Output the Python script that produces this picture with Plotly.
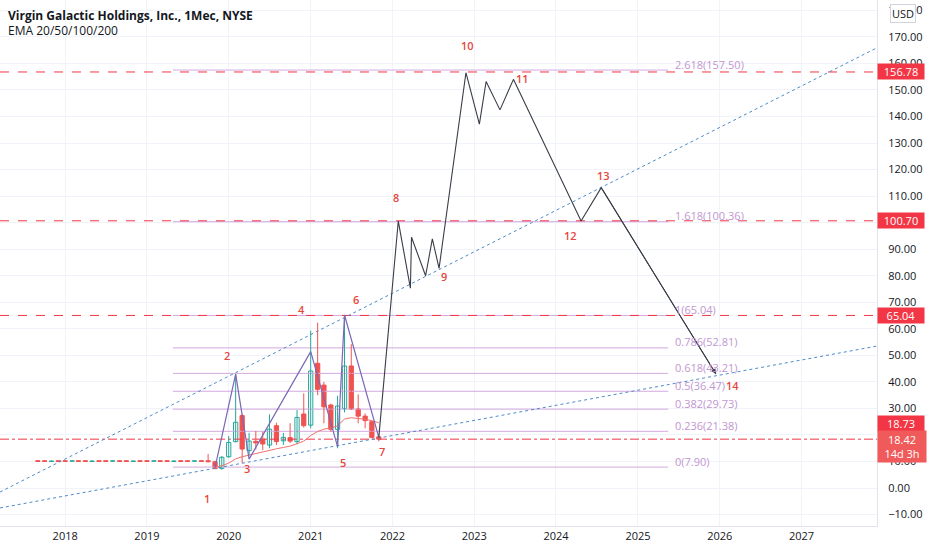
import plotly.graph_objects as go

# ---------------- data ----------------
candle_dates = ['2017-09-01','2017-10-01','2017-11-01','2017-12-01','2018-01-01','2018-02-01','2018-03-01',
                '2018-04-01','2018-05-01','2018-06-01','2018-07-01','2018-08-01','2018-09-01','2018-10-01',
                '2018-11-01','2018-12-01','2019-01-01','2019-02-01','2019-03-01','2019-04-01','2019-05-01',
                '2019-06-01','2019-07-01','2019-08-01','2019-09-01',
                '2019-10-01','2019-11-01','2019-12-01','2020-01-01','2020-02-01','2020-03-01','2020-04-01',
                '2020-05-01','2020-06-01','2020-07-01','2020-08-01','2020-09-01','2020-10-01','2020-11-01',
                '2020-12-01','2021-01-01','2021-02-01','2021-03-01','2021-04-01','2021-05-01','2021-06-01',
                '2021-07-01','2021-08-01','2021-09-01','2021-10-01','2021-11-01']
c_open  = [10.3,10.3,10.0,10.3,10.3,10.1,10.3,10.3,10.0,10.3,10.3,10.1,10.3,10.3,10.0,10.3,10.3,10.1,10.3,
           10.3,10.0,10.3,10.3,10.1,10.3,
           10.3,9.9,7.4,11.8,17.5,27.3,14.1,17.6,18.5,16.2,23.5,17.8,19.0,17.5,27.9,23.7,47.0,38.8,31.3,
           22.1,30.0,46.0,29.8,27.1,25.0,19.3]
c_high  = [10.4,10.4,10.4,10.4,10.4,10.4,10.4,10.4,10.4,10.4,10.4,10.4,10.4,10.4,10.4,10.4,10.4,10.4,10.4,
           10.4,10.4,10.4,10.4,10.4,10.4,
           12.8,10.3,12.0,19.6,42.9,28.0,20.8,21.5,21.2,27.8,24.6,20.8,24.4,29.4,35.7,59.3,62.3,40.0,31.8,
           34.8,65.0,54.2,35.3,28.1,25.4,19.8]
c_low   = [9.9,9.9,9.9,9.9,9.9,9.9,9.9,9.9,9.9,9.9,9.9,9.9,9.9,9.9,9.9,9.9,9.9,9.9,9.9,9.9,9.9,9.9,9.9,9.9,9.9,
           9.7,7.2,6.9,11.4,17.2,9.5,12.2,14.5,14.3,15.0,16.2,16.2,17.0,16.5,22.8,22.5,35.0,24.4,21.2,
           15.0,28.5,29.4,24.4,22.5,18.7,17.6]
c_close = [10.0,10.0,10.2,10.0,10.0,10.3,10.0,10.0,10.2,10.0,10.0,10.3,10.0,10.0,10.2,10.0,10.0,10.3,10.0,
           10.0,10.2,10.0,10.0,10.3,10.0,
           9.9,7.3,11.6,17.2,24.8,14.7,17.7,17.0,16.6,22.2,17.5,19.1,17.7,26.6,23.5,44.1,37.2,30.6,22.1,
           30.9,46.0,29.8,27.1,25.4,19.1,18.42]

ema_dates = ['2019-11-01','2019-12-01','2020-01-01','2020-02-01','2020-03-01','2020-04-01','2020-05-01',
             '2020-06-01','2020-07-01','2020-08-01','2020-09-01','2020-10-01','2020-11-01','2020-12-01',
             '2021-01-01','2021-02-01','2021-03-01','2021-04-01','2021-05-01','2021-06-01','2021-07-01',
             '2021-08-01','2021-09-01','2021-10-01','2021-11-01']
ema_vals = [8.0,8.4,9.4,11.0,11.8,12.4,13.0,13.7,14.4,14.8,15.3,15.8,16.7,17.7,19.8,21.3,22.2,22.6,23.5,
            26.0,26.5,26.3,25.9,25.4,24.6]

purple_dates = ['2019-11-01','2020-02-01','2020-04-01','2021-01-01','2021-05-01','2021-06-01','2021-11-01']
purple_vals  = [7.8, 42.9, 10.9, 51.4, 15.6, 65.2, 19.1]

path_dates = ['2021-11-01','2022-01-27','2022-03-22','2022-03-27','2022-05-29','2022-06-28','2022-07-28',
              '2022-11-25','2023-01-24','2023-02-23','2023-04-26','2023-06-25','2024-04-22','2024-07-21',
              '2025-12-15']
path_vals = [19.1,100.6,75.3,94.5,80.0,93.9,82.8,156.5,137.1,153.2,142.5,154.0,100.6,113.2,43.0]

wave_labels = ['1','2','3','4','5','6','7','8','9','10','11','12','13','14']
wave_label_dates = ['2019-09-26','2019-12-24','2020-03-23','2020-11-23','2021-05-26','2021-07-23',
                    '2021-11-15','2022-01-17','2022-08-19','2022-12-04','2023-08-03','2024-03-04',
                    '2024-07-30','2026-03-01']
wave_label_vals = [-4.1,49.8,7.5,67.1,9.8,70.9,13.6,109.3,79.9,166.6,154.2,95.0,117.6,38.8]

fib_ratios = ['0','0.236','0.382','0.5','0.618','0.786','1','1.618','2.618']
fib_vals = [7.90,21.38,29.73,36.47,43.21,52.81,65.04,100.36,157.50]
fib_start, fib_end, fib_label_x = '2019-04-27', '2025-05-16', '2025-06-08'

trend1_dates = ['2017-03-16','2027-12-04']; trend1_vals = [-1.5, 165.9]
trend2_dates = ['2017-03-16','2027-12-04']; trend2_vals = [-7.5, 53.5]

level_vals = [156.78, 100.70, 65.04]
last_price = 18.42
prev_label = 18.73

x_range = ['2017-03-16', '2027-12-04']
y_range = [-14.3, 183.9]

# ---------------- figure ----------------
RED = '#f23645'
LBL = '#e5463d'
UP = '#26a69a'
DN = '#ef5350'
BODY_MS = 19 * 24 * 3600 * 1000  # candle body width (about 2/3 of a month)

fig = go.Figure()

# fib levels
for r, v in zip(fib_ratios, fib_vals):
    fig.add_trace(go.Scatter(x=[fib_start, fib_end], y=[v, v], mode='lines',
                             line=dict(color='#d4a9de', width=1), hoverinfo='skip', showlegend=False))

# horizontal key levels
for v in level_vals:
    fig.add_trace(go.Scatter(x=x_range, y=[v, v], mode='lines',
                             line=dict(color=RED, width=1, dash='dash'), hoverinfo='skip', showlegend=False))
fig.add_trace(go.Scatter(x=x_range, y=[last_price, last_price], mode='lines',
                         line=dict(color=RED, width=1, dash='dashdot'), hoverinfo='skip', showlegend=False))

# trend lines
for d, v in ((trend1_dates, trend1_vals), (trend2_dates, trend2_vals)):
    fig.add_trace(go.Scatter(x=d, y=v, mode='lines',
                             line=dict(color='#4f8ac9', width=1, dash='dot'), hoverinfo='skip', showlegend=False))

# candles: wicks + bodies built from OHLC lists
for is_up, col in ((True, UP), (False, DN)):
    idx = [i for i in range(len(candle_dates)) if (c_close[i] >= c_open[i]) == is_up]
    wx, wy = [], []
    for i in idx:
        wx += [candle_dates[i], candle_dates[i], None]
        wy += [c_low[i], c_high[i], None]
    fig.add_trace(go.Scatter(x=wx, y=wy, mode='lines', line=dict(color=col, width=1),
                             hoverinfo='skip', showlegend=False))
    fig.add_trace(go.Bar(x=[candle_dates[i] for i in idx],
                         y=[max(abs(c_close[i] - c_open[i]), 0.15) for i in idx],
                         base=[min(c_open[i], c_close[i]) for i in idx],
                         width=BODY_MS,
                         marker=dict(color='#ffffff' if is_up else col, line=dict(color=col, width=1)),
                         hoverinfo='skip', showlegend=False))

# EMA
fig.add_trace(go.Scatter(x=ema_dates, y=ema_vals, mode='lines',
                         line=dict(color='#f0716b', width=1), hoverinfo='skip', showlegend=False))

# purple waves
fig.add_trace(go.Scatter(x=purple_dates, y=purple_vals, mode='lines',
                         line=dict(color='#7b67b6', width=1.2), hoverinfo='skip', showlegend=False))

# projected path
fig.add_trace(go.Scatter(x=path_dates, y=path_vals, mode='lines',
                         line=dict(color='#3a3d47', width=1.1), hoverinfo='skip', showlegend=False))

ann = []
ann.append(dict(x=path_dates[-1], y=path_vals[-1], ax=path_dates[-2], ay=path_vals[-2],
                xref='x', yref='y', axref='x', ayref='y', text='', showarrow=True,
                arrowhead=2, arrowsize=1, arrowwidth=1, arrowcolor='#3a3d47', standoff=0))

for t, d, v in zip(wave_labels, wave_label_dates, wave_label_vals):
    ann.append(dict(x=d, y=v, text=t, showarrow=False, xanchor='center', yanchor='middle',
                    font=dict(color=LBL, size=11, family='Open Sans', weight=600)))

for r, v in zip(fib_ratios, fib_vals):
    ann.append(dict(x=fib_label_x, y=v, text=f'{r}({v:.2f})', showarrow=False, xanchor='left',
                    yanchor='middle', yshift=6, font=dict(color='#c296d1', size=11, family='Open Sans')))

for v in level_vals:
    ann.append(dict(xref='paper', x=1, xanchor='left', xshift=0, y=v, yref='y', text=f'{v:.2f}',
                    showarrow=False, bgcolor=RED, font=dict(color='white', size=11, family='Open Sans'),
                    width=46, borderpad=0, align='center'))
ann.append(dict(xref='paper', x=1, xanchor='left', y=prev_label, yref='y', yshift=15, text=f'{prev_label:.2f}',
                showarrow=False, bgcolor=RED, font=dict(color='white', size=11, family='Open Sans'),
                width=46, borderpad=0, align='center'))
ann.append(dict(xref='paper', x=1, xanchor='left', y=last_price, yref='y', yshift=-7,
                text=f'{last_price:.2f}<br>14d 3h', showarrow=False, bgcolor='#f05a5a',
                font=dict(color='white', size=11, family='Open Sans'), width=46, borderpad=1, align='center'))

ann.append(dict(xref='paper', yref='paper', x=1, y=1, xanchor='left', yanchor='top', xshift=13, yshift=-4,
                text='USD', showarrow=False, bgcolor='white', bordercolor='#d1d4dc', borderwidth=1,
                borderpad=1, font=dict(color='#131722', size=11, family='Open Sans')))

ann.append(dict(xref='paper', yref='paper', x=0, y=1, xanchor='left', yanchor='top', xshift=6, yshift=-5,
                text='<b>Virgin Galactic Holdings, Inc., 1Mec, NYSE</b>', showarrow=False,
                font=dict(color='#131722', size=12, family='Open Sans'), align='left'))
ann.append(dict(xref='paper', yref='paper', x=0, y=1, xanchor='left', yanchor='top', xshift=6, yshift=-20,
                text='EMA 20/50/100/200', showarrow=False,
                font=dict(color='#131722', size=12, family='Open Sans'), align='left'))

fig.update_layout(
    width=932, height=550, margin=dict(l=0, r=55, t=0, b=24),
    paper_bgcolor='white', plot_bgcolor='white', showlegend=False,
    annotations=ann, barmode='overlay',
    font=dict(family='Open Sans', color='#131722'),
    xaxis=dict(type='date', range=x_range, showgrid=True,
               gridcolor='#f0f3fa', dtick='M12', tick0='2018-01-01', tickformat='%Y',
               tickfont=dict(size=11, color='#131722'), showline=True, linecolor='#e0e3eb',
               zeroline=False, ticks=''),
    yaxis=dict(side='right', range=y_range, dtick=10, tick0=0, tickformat='.2f', showgrid=True,
               gridcolor='#f0f3fa', zeroline=False, showline=True, linecolor='#e0e3eb',
               tickfont=dict(size=11, color='#131722'), ticks='', ticklabelstandoff=8),
)

fig.write_html('out.html')
